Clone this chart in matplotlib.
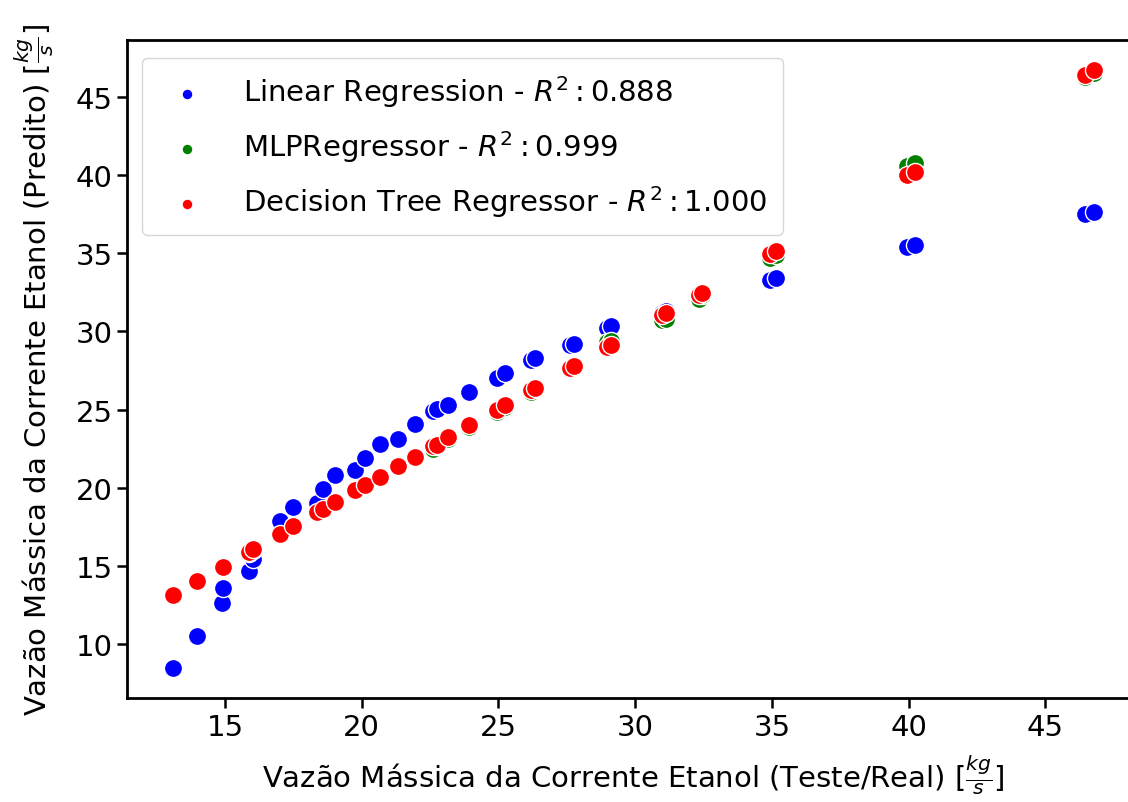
import matplotlib
matplotlib.use("Agg")
import matplotlib.pyplot as plt

# test (real) values and predictions of the three regressors
x_real = [13.11, 13.97, 14.90, 14.93, 15.87, 16.03, 17.01, 17.50, 18.35, 18.60,
          19.02, 19.75, 20.12, 20.67, 21.34, 21.95, 22.62, 22.76, 23.16, 23.92,
          24.93, 25.24, 26.20, 26.32, 27.62, 27.76, 28.96, 29.10, 31.00, 31.12,
          32.32, 32.46, 34.93, 35.16, 39.95, 40.22, 46.44, 46.78]

y_linear = [8.44, 10.53, 12.61, 13.57, 14.66, 15.45, 17.9, 18.76, 19.0, 19.9,
            20.83, 21.11, 21.9, 22.82, 23.14, 24.10, 24.9, 25.03, 25.28, 26.15,
            27.03, 27.31, 28.2, 28.3, 29.1, 29.2, 30.25, 30.35, 31.2, 31.3,
            32.1, 32.3, 33.3, 33.4, 35.37, 35.5, 37.52, 37.63]

y_mlp = [13.1, 13.95, 14.9, 14.95, 15.85, 16.05, 17.0, 17.5, 18.4, 18.6,
         19.0, 19.8, 20.1, 20.6, 21.3, 21.95, 22.5, 22.65, 23.15, 23.9,
         24.85, 25.15, 26.15, 26.3, 27.6, 27.7, 29.3, 29.4, 30.7, 30.8,
         32.1, 32.3, 34.7, 34.9, 40.55, 40.75, 46.25, 46.5]

y_tree = [13.14, 14.02, 14.93, 14.96, 15.92, 16.1, 17.05, 17.54, 18.44, 18.65,
          19.06, 19.85, 20.19, 20.68, 21.37, 21.97, 22.65, 22.76, 23.24, 24.0,
          24.96, 25.3, 26.25, 26.35, 27.65, 27.78, 29.0, 29.1, 31.05, 31.15,
          32.35, 32.48, 34.95, 35.13, 40.0, 40.2, 46.43, 46.75]

series = [
    (y_linear, "blue", r"Linear Regression - $R^2: 0.888$"),
    (y_mlp, "green", r"MLPRegressor - $R^2: 0.999$"),
    (y_tree, "red", r"Decision Tree Regressor - $R^2: 1.000$"),
]

plt.rcParams["font.family"] = "DejaVu Sans"
plt.rcParams["font.size"] = 21

fig = plt.figure(figsize=(11.28, 8.03), dpi=100)
ax = fig.add_axes([0.1129, 0.129, 0.8977, 0.8204])

for ys, color, label in series:
    ax.scatter(x_real, ys, s=170, color=color, edgecolor="white",
               linewidth=1.0, label=label)

for side in ax.spines.values():
    side.set_linewidth(2.0)
ax.tick_params(length=7, width=1.8, labelsize=21)

ax.set_xlabel(r"Vazão Mássica da Corrente Etanol (Teste/Real) [$\frac{kg}{s}$]",
              fontsize=21, labelpad=8)
ax.set_ylabel(r"Vazão Mássica da Corrente Etanol (Predito) [$\frac{kg}{s}$]",
              fontsize=21, labelpad=14)

ax.legend(loc="upper left", markerscale=0.6, fontsize=21,
          handletextpad=0.9, labelspacing=0.65, borderpad=0.55,
          bbox_to_anchor=(0.0, 0.995))

fig.savefig("out.png", dpi=100)
